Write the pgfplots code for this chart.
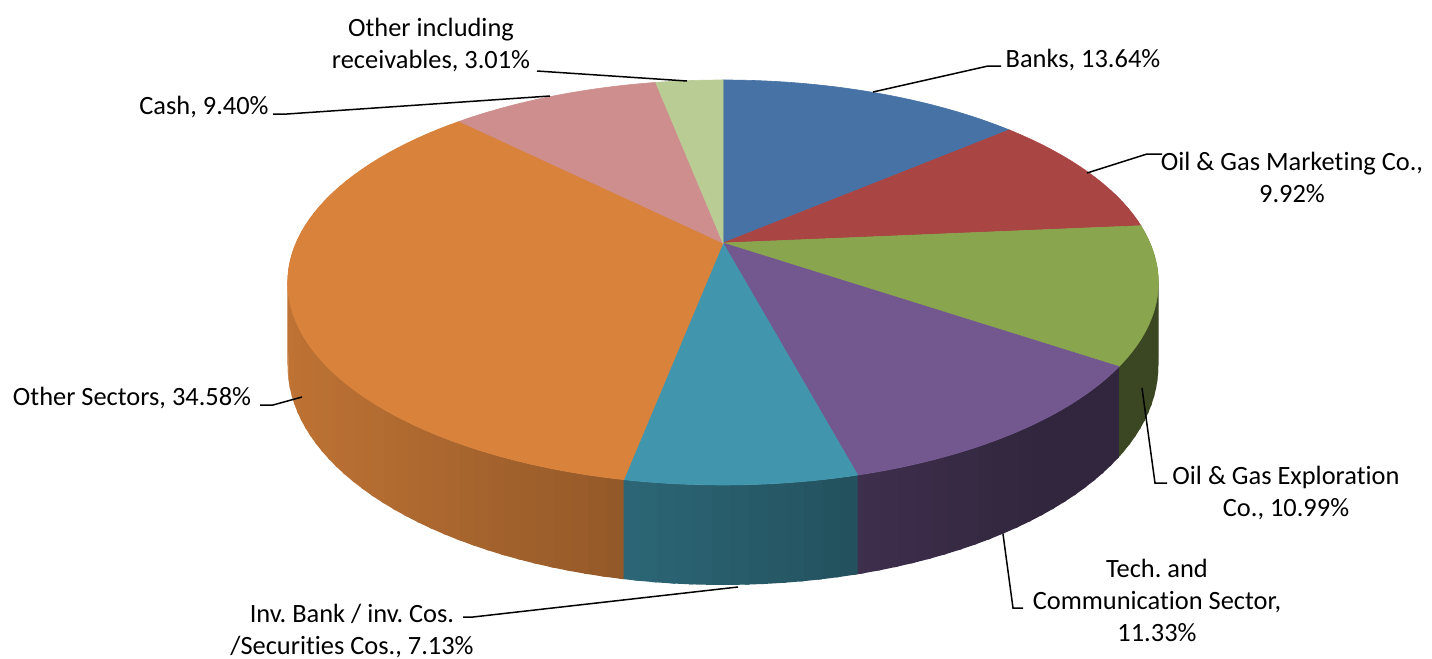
\documentclass[border=0pt]{standalone}
\usepackage{pgfplots}
\pgfplotsset{compat=1.18}
\usepackage{pgfplotstable}
\usepackage{fontspec}
\setmainfont{Carlito}[Ligatures={NoCommon}]
\frenchspacing

\definecolor{c0}{HTML}{4672A6}
\definecolor{c1}{HTML}{A94644}
\definecolor{c2}{HTML}{89A54E}
\definecolor{c3}{HTML}{73588F}
\definecolor{c4}{HTML}{4196AD}
\definecolor{c5}{HTML}{D8823B}
\definecolor{c6}{HTML}{CE8E8D}
\definecolor{c7}{HTML}{B9CC94}

% slice values (percent), clockwise from 12 o'clock
\pgfplotstableread{
value
13.64
9.92
10.99
11.33
7.13
34.58
9.40
3.01
}\piedata

\newcommand\lbl{\fontsize{13.2}{16}\selectfont}

\newcommand\wallpiece[3]{%
  \pgfmathsetmacro\xa{px(#1)}\pgfmathsetmacro\ya{pyt(#1)}%
  \pgfmathsetmacro\xb{px(#2+0.5)}\pgfmathsetmacro\yb{pyt(#2+0.5)}%
  \pgfmathsetmacro\yc{pyb(#2+0.5)}\pgfmathsetmacro\yd{pyb(#1)}%
  \pgfmathsetmacro\br{max(43,min(88,88-0.06*(0.5*(\xa+\xb)-290)))}%
  \edef\doit{\noexpand\addplot[fill=#3!\br!black, draw=none]
    coordinates {(\xa,\ya) (\xb,\yb) (\xb,\yc) (\xa,\yd) (\xa,\ya)};}%
  \doit
}

\begin{document}
\begin{tikzpicture}[declare function={
  px(\t)=723+427*sin(\t)/(1+0.195*cos(\t));
  pyt(\t)=243-194.8*cos(\t)/(1+0.195*cos(\t));
  pyb(\t)=243-(194.8*cos(\t)-80.5)/(1+0.195*cos(\t));
}]
% cumulative angles
\def\cum{0}
\pgfplotsinvokeforeach{0,...,7}{%
  \pgfplotstablegetelem{#1}{value}\of\piedata
  \pgfmathsetmacro\tmpA{\cum*3.6}%
  \pgfmathsetmacro\tmpC{\cum+\pgfplotsretval}%
  \pgfmathsetmacro\tmpB{\tmpC*3.6}%
  \expandafter\xdef\csname sA#1\endcsname{\tmpA}%
  \expandafter\xdef\csname sB#1\endcsname{\tmpB}%
  \xdef\cum{\tmpC}%
}
\begin{axis}[scale only axis, width=716pt, height=329.5pt,
  at={(0,0)}, anchor=south west,
  xmin=0, xmax=1432, ymin=0, ymax=659, y dir=reverse,
  hide axis, clip=false]
% side walls
\pgfplotsinvokeforeach{0,...,7}{%
  \edef\wA{\csname sA#1\endcsname}\edef\wB{\csname sB#1\endcsname}%
  \let\tcur\wA
  \loop
    \pgfmathsetmacro\tnext{min(\tcur+2,\wB)}%
    \pgfmathtruncatemacro\vis{cos(0.5*(\tcur+\tnext))<0.3}%
    \ifnum\vis=1 \wallpiece{\tcur}{\tnext}{c#1}\fi
    \let\tcur\tnext
    \pgfmathtruncatemacro\more{\tcur<\wB-0.001}%
  \ifnum\more=1 \repeat
}
% top faces
\pgfplotsinvokeforeach{0,...,7}{%
  \edef\doit{\noexpand\addplot[fill=c#1, draw=c#1, line width=0.3pt,
    domain=\csname sA#1\endcsname:\csname sB#1\endcsname, samples=60]
    ({px(\noexpand\x)},{pyt(\noexpand\x)}) -- (axis cs:723,243) -- cycle;}%
  \doit
}
% leader lines
\draw[black, line width=0.75pt] (axis cs:537,71) -- (axis cs:687,81);
\draw[black, line width=0.75pt] (axis cs:873,92) -- (axis cs:988,66) -- (axis cs:1001,66);
\draw[black, line width=0.75pt] (axis cs:1087,173) -- (axis cs:1147,154) -- (axis cs:1162,154);
\draw[black, line width=0.75pt] (axis cs:1142,388) -- (axis cs:1155,483) -- (axis cs:1167,483);
\draw[black, line width=0.75pt] (axis cs:1003,534) -- (axis cs:1013,608) -- (axis cs:1023,608);
\draw[black, line width=0.75pt] (axis cs:463,617) -- (axis cs:473,617) -- (axis cs:738,587);
\draw[black, line width=0.75pt] (axis cs:260,405) -- (axis cs:273,405) -- (axis cs:302,397);
\draw[black, line width=0.75pt] (axis cs:273,114) -- (axis cs:287,114) -- (axis cs:550,96);
% labels
\node[align=center, font=\lbl, inner sep=0pt] at (axis cs:431,45) {Other including\\receivables, 3.01\%};
\node[align=center, font=\lbl, inner sep=0pt] at (axis cs:1083,60) {Banks, 13.64\%};
\node[align=center, font=\lbl, inner sep=0pt] at (axis cs:1292,177) {Oil \& Gas Marketing Co.,\\9.92\%};
\node[align=center, font=\lbl, inner sep=0pt] at (axis cs:1286,493) {Oil \& Gas Exploration\\Co., 10.99\%};
\node[align=center, font=\lbl, inner sep=0pt] at (axis cs:1157,600) {Tech. and\\Communication Sector,\\11.33\%};
\node[align=center, font=\lbl, inner sep=0pt] at (axis cs:352,631) {Inv. Bank / inv. Cos.\\/Securities Cos., 7.13\%};
\node[align=center, font=\lbl, inner sep=0pt] at (axis cs:132,398) {Other Sectors, 34.58\%};
\node[align=center, font=\lbl, inner sep=0pt] at (axis cs:204,107) {Cash, 9.40\%};
\end{axis}
\pgfresetboundingbox
\path[use as bounding box] (0,0) rectangle (716pt,329.5pt);
\end{tikzpicture}
\end{document}
